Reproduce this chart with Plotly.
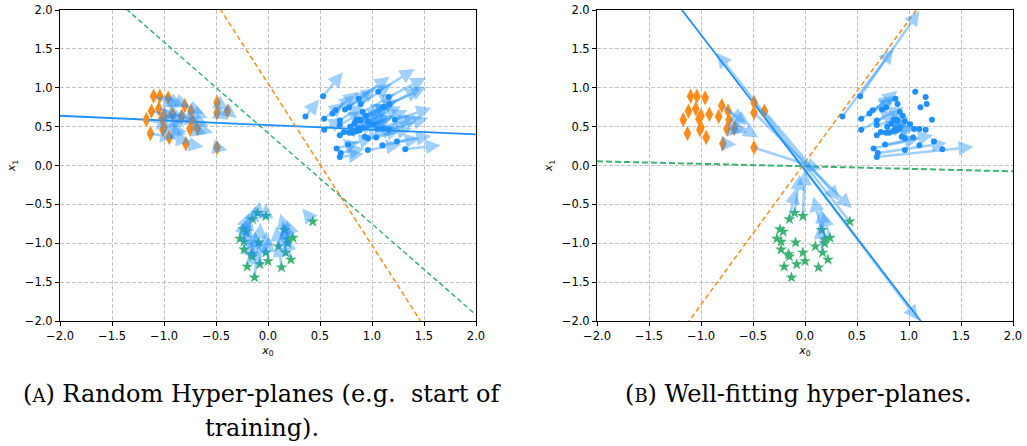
import plotly.graph_objects as go

# ---------------- data ----------------
blue_x = [0.36, 0.53, 0.54, 0.54, 0.62, 0.65, 0.69, 0.69, 0.69, 0.66, 0.70, 0.69, 0.77, 0.74, 0.78, 0.87,
          0.89, 0.91, 0.94, 0.85, 0.88, 0.89, 0.96, 0.78, 0.81, 0.85, 0.88, 0.93, 0.96, 1.01, 1.05, 1.10,
          1.16, 1.06, 1.16, 1.17, 1.11, 1.22, 1.24, 1.32, 1.10, 0.96, 1.04, 0.79, 0.83, 0.73, 0.87, 0.91]
blue_y = [0.63, 0.89, 0.60, 0.46, 0.67, 0.71, 0.58, 0.52, 0.39, 0.22, 0.16, 0.11, 0.27, 0.72, 0.75, 0.86,
          0.79, 0.69, 0.64, 0.59, 0.59, 0.58, 0.57, 0.42, 0.42, 0.44, 0.45, 0.37, 0.35, 0.53, 0.47, 0.47,
          0.46, 0.95, 0.88, 0.79, 0.75, 0.59, 0.31, 0.21, 0.26, 0.20, 0.36, 0.50, 0.54, 0.43, 0.48, 0.48]
# arrows (A: random hyper-planes)
blue_uA = [0.13, 0.19, 0.19, 0.19, 0.21, 0.22, 0.23, 0.23, 0.24, 0.22, 0.23, 0.23, 0.25, 0.25, 0.26, 0.30,
           0.30, 0.31, 0.31, 0.29, 0.30, 0.30, 0.32, 0.26, 0.28, 0.29, 0.30, 0.31, 0.32, 0.33, 0.35, 0.36,
           0.38, 0.35, 0.36, 0.35, 0.36, 0.35, 0.33, 0.34, 0.36, 0.32, 0.34, 0.26, 0.28, 0.24, 0.29, 0.30]
blue_vA = [0.22, 0.31, 0.21, 0.15, 0.23, 0.24, 0.20, 0.18, 0.13, 0.08, 0.06, 0.04, 0.09, 0.24, 0.25, 0.28,
           0.26, 0.23, 0.21, 0.20, 0.20, 0.19, 0.19, 0.14, 0.14, 0.14, 0.15, 0.12, 0.12, 0.18, 0.15, 0.15,
           0.15, 0.29, 0.25, 0.22, 0.24, 0.15, 0.07, 0.05, 0.09, 0.07, 0.12, 0.17, 0.18, 0.14, 0.16, 0.16]
# arrows (B: well-fitting hyper-planes)
blue_uB = [0.49, 0.57, 0.32, 0.34, 0.27, 0.21, 0.26, 0.31, 0.36, 0.44, 0.66, 0.93, 0.46, 0, 0, 0,
           0, 0, 0, 0, 0, 0, 0, 0.28, 0, 0, 0, 0, 0, 0, 0, 0,
           0, 0, 0, 0, 0, 0, 0, 0, 0, 0, 0, 0.21, 0, 0.25, 0, 0]
blue_vB = [0.87, 1.10, 0.26, 0.24, 0.29, 0.18, 0.17, 0.10, 0.11, 0.13, 0.13, 0.13, 0.12, 0, 0, 0,
           0, 0, 0, 0, 0, 0, 0, 0.05, 0, 0, 0, 0, 0, 0, 0, 0,
           0, 0, 0, 0, 0, 0, 0, 0, 0, 0, 0, 0.06, 0, 0.09, 0, 0]

orange_x = [-1.10, -1.04, -0.96, -0.80, -0.74, -1.17, -1.12, -1.05, -1.00, -1.02, -0.92, -0.83,
            -0.73, -1.00, -1.01, -1.13, -0.95, -0.75, -0.68, -0.79, -0.49, -0.49, -0.39, -0.49]
orange_y = [0.89, 0.89, 0.87, 0.77, 0.70, 0.59, 0.70, 0.73, 0.64, 0.60, 0.66, 0.63,
            0.59, 0.49, 0.46, 0.41, 0.36, 0.47, 0.48, 0.28, 0.81, 0.68, 0.70, 0.23]
orange_uA = [0.24, 0.23, 0.21, 0.18, 0.16, 0.25, 0.24, 0.23, 0.22, 0.22, 0.20, 0.18,
             0.16, 0.22, 0.22, 0.24, 0.21, 0.16, 0.15, 0.17, 0.11, 0.11, 0.09, 0.10]
orange_vA = [-0.12, -0.12, -0.11, -0.10, -0.09, -0.08, -0.09, -0.09, -0.08, -0.08, -0.08, -0.08,
             -0.08, -0.06, -0.06, -0.05, -0.05, -0.06, -0.06, -0.04, -0.10, -0.09, -0.09, -0.03]
orange_uB = [0, 0, 0, 0.23, 0.21, 0, 0, 0, 0, 0, 0, 0,
             0.28, 0, 0, 0, 0, 0.15, 0.12, 0.13, 1.58, 0.94, 0.72, 0.65]
orange_vB = [0, 0, 0, -0.22, -0.18, 0, 0, 0, 0, 0, 0, 0,
             -0.23, 0, 0, 0, 0, -0.03, -0.06, -0.01, -2.80, -1.23, -1.15, -0.28]

green_x = [-0.10, -0.15, -0.02, -0.24, -0.21, -0.27, -0.23, -0.09, -0.23, -0.16, -0.15, -0.02, 0.00,
           -0.08, -0.20, -0.13, 0.10, 0.16, 0.19, 0.24, 0.19, 0.17, 0.22, 0.13, 0.43]
green_y = [-0.61, -0.69, -0.65, -0.82, -0.85, -0.94, -0.98, -0.99, -1.08, -1.14, -1.17, -1.12, -1.23,
           -1.27, -1.30, -1.44, -1.04, -0.83, -0.95, -0.93, -1.00, -1.12, -1.21, -1.31, -0.72]
green_uA = [0.02, 0.03, 0.00, 0.06, 0.05, 0.07, 0.06, 0.02, 0.05, 0.04, 0.04, 0.00, 0.00,
            0.02, 0.05, 0.03, -0.02, -0.04, -0.05, -0.06, -0.05, -0.04, -0.05, -0.03, -0.10]
green_vA = [0.15, 0.17, 0.16, 0.21, 0.21, 0.24, 0.25, 0.25, 0.27, 0.29, 0.29, 0.28, 0.31,
            0.32, 0.33, 0.36, 0.26, 0.21, 0.24, 0.23, 0.25, 0.28, 0.30, 0.33, 0.17]
green_uB = [0.05, 0.06, 0.02, 0, 0, 0, 0, 0, 0, 0, 0, 0, 0,
            0, 0, 0, 0, -0.08, -0.04, -0.07, 0, -0.03, 0, 0, -1.28]
green_vB = [0.49, 0.39, 0.59, 0, 0, 0, 0, 0, 0, 0, 0, 0, 0,
            0, 0, 0, 0, 0.43, 0.40, 0.33, 0, 0.37, 0, 0, 2.17]

# hyper-planes, evaluated at the x-range limits
line_x = [-2.0, 2.0]
A_blue_line = [0.64, 0.40]
A_orange_line = [5.22, -3.11]
A_green_line = [2.757, -1.921]
B_blue_line = [3.424, -3.548]
B_orange_line = [-3.619, 3.70]
B_green_line = [0.054, -0.075]

tick_vals = [-2.0, -1.5, -1.0, -0.5, 0.0, 0.5, 1.0, 1.5, 2.0]
captionA = ["(<span style='font-size:18px'>A</span>) Random Hyper-planes (e.g.\u00a0 start of", "training)."]
captionB = "(<span style='font-size:18px'>B</span>) Well-fitting hyper-planes."

# ---------------- style ----------------
BLUE = "#1E90FF"
ORANGE = "#FF8C1A"
GREEN = "#3CB371"
ARROW = "rgba(30,144,255,0.42)"

W, H = 1027, 446

fig = go.Figure()

def add_panel(xa, ya, lines, vecs):
    xr, yr = xa, ya
    for yv, col, dash, w in lines:
        fig.add_trace(go.Scatter(x=line_x, y=yv, mode="lines", xaxis=xr, yaxis=yr,
                                 line=dict(color=col, dash=dash, width=w), showlegend=False,
                                 hoverinfo="skip"))
    fig.add_trace(go.Scatter(x=orange_x, y=orange_y, mode="markers", xaxis=xr, yaxis=yr,
                             marker=dict(symbol="diamond-tall", size=11, color=ORANGE, line=dict(width=0)),
                             showlegend=False))
    fig.add_trace(go.Scatter(x=blue_x, y=blue_y, mode="markers", xaxis=xr, yaxis=yr,
                             marker=dict(symbol="circle", size=6, color=BLUE, line=dict(width=0)),
                             showlegend=False))
    fig.add_trace(go.Scatter(x=green_x, y=green_y, mode="markers", xaxis=xr, yaxis=yr,
                             marker=dict(symbol="star", size=9, color=GREEN, line=dict(width=0)),
                             showlegend=False))
    for px, py, pu, pv in vecs:
        for x0, y0, u, v in zip(px, py, pu, pv):
            if u == 0 and v == 0:
                continue
            fig.add_annotation(x=x0 + u, y=y0 + v, ax=x0, ay=y0,
                               xref=xr, yref=yr, axref=xr, ayref=yr,
                               showarrow=True, arrowhead=2, arrowsize=1.15, arrowwidth=2.6,
                               arrowcolor=ARROW, standoff=0, startstandoff=0, text="")

add_panel("x", "y",
          [(A_blue_line, BLUE, "solid", 1.8), (A_orange_line, ORANGE, "5px,3px", 1.5),
           (A_green_line, GREEN, "5px,3px", 1.5)],
          [(blue_x, blue_y, blue_uA, blue_vA), (orange_x, orange_y, orange_uA, orange_vA),
           (green_x, green_y, green_uA, green_vA)])
add_panel("x2", "y2",
          [(B_blue_line, BLUE, "solid", 1.8), (B_orange_line, ORANGE, "5px,3px", 1.5),
           (B_green_line, GREEN, "6px,3px", 2)],
          [(blue_x, blue_y, blue_uB, blue_vB), (orange_x, orange_y, orange_uB, orange_vB),
           (green_x, green_y, green_uB, green_vB)])

ax_common = dict(range=[-2, 2], tickvals=tick_vals, tickformat=".1f", showgrid=True,
                 gridcolor="#c4c4c4", griddash="4px,2px", gridwidth=1, zeroline=False,
                 showline=True, mirror=True, linecolor="black", linewidth=1,
                 ticks="outside", ticklen=4, tickcolor="black", automargin=False,
                 tickfont=dict(family="DejaVu Sans", size=11.5, color="black"))

xt = dict(text="<i>x</i><sub>0</sub>", font=dict(family="DejaVu Sans", size=11, color="black"), standoff=4)
yt = dict(text="<i>x</i><sub>1</sub>", font=dict(family="DejaVu Sans", size=11, color="black"), standoff=6)

fig.update_layout(
    width=W, height=H, margin=dict(l=0, r=0, t=0, b=0),
    paper_bgcolor="white", plot_bgcolor="white",
    xaxis=dict(domain=[60 / W, 476 / W], anchor="y", title=xt, **ax_common),
    yaxis=dict(domain=[1 - 321 / H, 1 - 10 / H], anchor="x", title=yt, **ax_common),
    xaxis2=dict(domain=[597 / W, 1013 / W], anchor="y2", title=xt, **ax_common),
    yaxis2=dict(domain=[1 - 321 / H, 1 - 10 / H], anchor="x2", title=yt, **ax_common),
)

cap_font = dict(family="DejaVu Serif", size=24, color="black")
fig.add_annotation(x=262 / W, y=1 - 394 / H, xref="paper", yref="paper", text=captionA[0],
                   showarrow=False, font=cap_font, xanchor="center", yanchor="middle")
fig.add_annotation(x=262 / W, y=1 - 428 / H, xref="paper", yref="paper", text=captionA[1],
                   showarrow=False, font=cap_font, xanchor="center", yanchor="middle")
fig.add_annotation(x=798 / W, y=1 - 394 / H, xref="paper", yref="paper", text=captionB,
                   showarrow=False, font=cap_font, xanchor="center", yanchor="middle")

fig.write_html("out.html", config={"displayModeBar": False},
               post_script="document.body.style.margin='0';")
